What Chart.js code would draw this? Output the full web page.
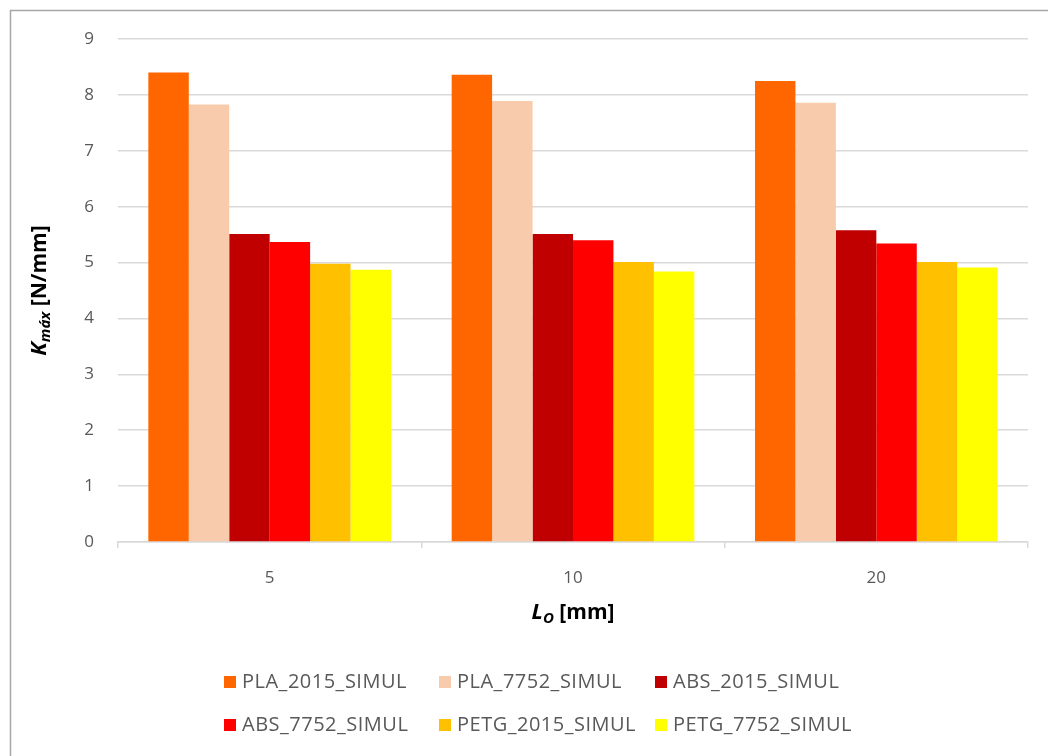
<!DOCTYPE html>
<html>
<head>
<meta charset="utf-8">
<script src="https://cdn.jsdelivr.net/npm/chart.js@4"></script>
<style>
  html, body { margin: 0; padding: 0; background: #fff; }
  #wrap { width: 1048px; height: 756px; position: relative; }
</style>
</head>
<body>
<div id="wrap"><canvas id="chart" width="1048" height="756"></canvas></div>
<script>
const lengths = ["5", "10", "20"];
const seriesNames = ["PLA_2015_SIMUL", "PLA_7752_SIMUL", "ABS_2015_SIMUL", "ABS_7752_SIMUL", "PETG_2015_SIMUL", "PETG_7752_SIMUL"];
const seriesColors = ["#FF6600", "#F8CBAD", "#C00000", "#FF0000", "#FFC000", "#FFFF00"];
const pla2015 = [8.40, 8.36, 8.25];
const pla7752 = [7.83, 7.89, 7.86];
const abs2015 = [5.51, 5.51, 5.58];
const abs7752 = [5.37, 5.40, 5.34];
const petg2015 = [4.98, 5.01, 5.01];
const petg7752 = [4.87, 4.84, 4.91];
const seriesValues = [pla2015, pla7752, abs2015, abs7752, petg2015, petg7752];

const FONT = "'Open Sans', 'Liberation Sans', sans-serif";
const TEXT = "#595959";

// frame, axis titles and the two-row legend
const decorations = {
  id: "decorations",
  afterDraw(chart) {
    const ctx = chart.ctx;
    const area = chart.chartArea;
    ctx.save();

    ctx.strokeStyle = "#A6A6A6";
    ctx.lineWidth = 1.5;
    ctx.strokeRect(10.5, 10.5, 1100, 800);

    ctx.fillStyle = "#000";
    ctx.textBaseline = "middle";

    // y title: K with subscript "máx"
    ctx.save();
    ctx.translate(40, (area.top + area.bottom) / 2);
    ctx.rotate(-Math.PI / 2);
    const big = "italic bold 22px " + FONT;
    const sub = "italic bold 15px " + FONT;
    const rest = "bold 21px " + FONT;
    ctx.font = big; const wK = ctx.measureText("K").width;
    ctx.font = sub; const wS = ctx.measureText("máx").width;
    ctx.font = rest; const wR = ctx.measureText(" [N/mm]").width;
    let x = -(wK + wS + wR) / 2;
    ctx.textAlign = "left";
    ctx.font = big; ctx.fillText("K", x, 0); x += wK;
    ctx.font = sub; ctx.fillText("máx", x, 6); x += wS;
    ctx.font = rest; ctx.fillText(" [N/mm]", x, 0);
    ctx.restore();

    // x title: L with subscript O
    {
      const bigL = "italic bold 22px " + FONT;
      const subO = "italic bold 15px " + FONT;
      const restL = "bold 21px " + FONT;
      ctx.font = bigL; const wL = ctx.measureText("L").width;
      ctx.font = subO; const wO = ctx.measureText("O").width;
      ctx.font = restL; const wM = ctx.measureText(" [mm]").width;
      let xx = (area.left + area.right) / 2 - (wL + wO + wM) / 2;
      const yy = 613;
      ctx.textAlign = "left";
      ctx.font = bigL; ctx.fillText("L", xx, yy); xx += wL;
      ctx.font = subO; ctx.fillText("O", xx, yy + 6); xx += wO;
      ctx.font = restL; ctx.fillText(" [mm]", xx, yy);
    }

    // legend
    const cols = [224, 439, 655];
    const rows = [682, 725];
    ctx.font = "20px " + FONT;
    ctx.letterSpacing = "0.5px";
    chart.data.datasets.forEach((ds, i) => {
      const cx = cols[i % 3];
      const cy = rows[Math.floor(i / 3)];
      ctx.fillStyle = ds.backgroundColor;
      ctx.fillRect(cx, cy - 6, 12, 12);
      ctx.fillStyle = TEXT;
      ctx.fillText(ds.label, cx + 18, cy);
    });
    ctx.restore();
  }
};

new Chart(document.getElementById("chart"), {
  type: "bar",
  data: {
    labels: lengths,
    datasets: seriesNames.map((name, i) => ({
      label: name,
      data: seriesValues[i],
      backgroundColor: seriesColors[i],
      borderWidth: 0,
      barPercentage: 1.0,
      categoryPercentage: 0.8
    }))
  },
  options: {
    responsive: false,
    animation: false,
    layout: { padding: { left: 0, right: 20, top: 39, bottom: 0 } },
    plugins: {
      legend: { display: false },
      tooltip: { enabled: false }
    },
    scales: {
      x: {
        afterFit(scale) { scale.height = 214; },
        grid: { drawOnChartArea: false, drawTicks: true, tickLength: 6, color: "#D9D9D9", lineWidth: 1.5 },
        border: { color: "#D9D9D9", width: 1.5 },
        ticks: { color: TEXT, font: { family: FONT, size: 17 }, padding: 20 }
      },
      y: {
        min: 0,
        max: 9,
        afterFit(scale) { scale.width = 118; },
        grid: { color: "#D9D9D9", lineWidth: 1.5, drawTicks: false },
        border: { display: false },
        ticks: { stepSize: 1, color: TEXT, font: { family: FONT, size: 17 }, padding: 24 }
      }
    }
  },
  plugins: [decorations]
});
</script>
</body>
</html>
